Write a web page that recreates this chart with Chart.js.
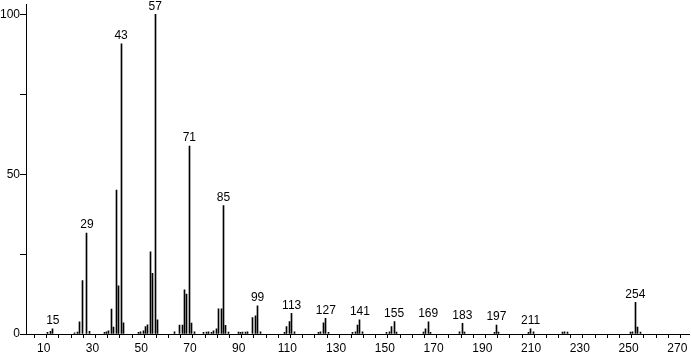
<!DOCTYPE html>
<html>
<head>
<meta charset="utf-8">
<script src="https://cdn.jsdelivr.net/npm/chart.js@4.4.0/dist/chart.umd.min.js"></script>
<style>
  html, body { margin: 0; padding: 0; background: #fff; }
  #wrap { width: 691px; height: 353px; }
</style>
</head>
<body>
<div id="wrap"><canvas id="spec" width="691" height="353"></canvas></div>
<script>
// m/z values and relative intensities
const mz = [13, 14, 15, 24, 25, 26, 27, 29, 30, 36, 37, 38, 39, 40, 41, 42, 43, 44,
  50, 51, 52, 53, 54, 55, 56, 57, 58, 65, 67, 68, 69, 70, 71, 72, 73,
  77, 78, 79, 80, 81, 82, 83, 84, 85, 86, 87, 91, 92, 93, 94, 95, 97, 98, 99, 100,
  110, 111, 112, 113, 114, 124, 125, 126, 127, 128, 138, 139, 140, 141, 142,
  152, 153, 154, 155, 156, 167, 168, 169, 170, 182, 183, 184, 196, 197, 198,
  210, 211, 212, 224, 225, 226, 252, 253, 254, 255, 256];
const intensity = [0.5, 0.8, 1.6, 0.4, 0.6, 3.8, 16.7, 31.6, 0.8, 0.5, 0.7, 1.0, 7.8, 2.2, 45.0, 15.1, 90.8, 3.5,
  0.5, 0.7, 1.0, 2.3, 2.9, 25.7, 19.0, 100, 4.4, 0.7, 2.8, 2.8, 13.8, 12.5, 58.8, 3.4, 0.7,
  0.5, 0.6, 0.7, 0.5, 1.0, 1.6, 7.9, 7.9, 40.2, 2.7, 0.6, 0.6, 0.5, 0.6, 0.6, 0.7, 5.1, 5.7, 8.8, 0.7,
  0.5, 2.3, 3.9, 6.5, 0.7, 0.5, 0.7, 3.5, 4.9, 0.5, 0.5, 0.7, 2.8, 4.4, 0.7,
  0.5, 0.7, 2.3, 3.9, 0.6, 0.6, 1.6, 3.8, 0.5, 0.7, 3.3, 0.6, 0.5, 2.8, 0.6,
  0.5, 1.6, 0.7, 0.6, 0.7, 0.6, 0.6, 0.7, 9.9, 2.2, 0.6];
// peaks that carry a label
const labeledMz = [15, 29, 43, 57, 71, 85, 99, 113, 127, 141, 155, 169, 183, 197, 211, 254];
const xLabelTicks = [10, 30, 50, 70, 90, 110, 130, 150, 170, 190, 210, 230, 250, 270];
const yLabelTicks = [0, 50, 100];

const FONT = { family: 'Liberation Sans, Arial, sans-serif', size: 12 };

// snap the 1px bars onto whole pixels so they stay crisp
const crispBars = {
  id: 'crispBars',
  beforeDatasetsDraw(chart) {
    chart.getDatasetMeta(0).data.forEach(el => { el.x = Math.floor(el.x) + 0.5; });
  }
};

const peakLabels = {
  id: 'peakLabels',
  afterDatasetsDraw(chart) {
    const ctx = chart.ctx;
    const xs = chart.scales.x, ys = chart.scales.y;
    ctx.save();
    ctx.font = FONT.size + 'px ' + FONT.family;
    ctx.fillStyle = '#000';
    ctx.textAlign = 'center';
    ctx.textBaseline = 'bottom';
    labeledMz.forEach(m => {
      const i = mz.indexOf(m);
      if (i < 0) return;
      const x = xs.getPixelForValue(m);
      const y = ys.getPixelForValue(intensity[i]) - 2;
      ctx.fillText(String(m), x, y);
    });
    ctx.restore();
  }
};

new Chart(document.getElementById('spec'), {
  type: 'bar',
  data: {
    datasets: [{
      data: mz.map((m, i) => ({ x: m, y: intensity[i] })),
      backgroundColor: '#000',
      borderWidth: 0,
      barThickness: 1
    }]
  },
  options: {
    responsive: false,
    devicePixelRatio: 1,
    animation: false,
    layout: { padding: { top: 0, right: 2, left: 0, bottom: 0 } },
    plugins: { legend: { display: false }, tooltip: { enabled: false } },
    scales: {
      x: {
        type: 'linear',
        min: 4,
        max: 276,
        offset: false,
        border: { display: true, color: '#000', width: 1 },
        grid: { drawOnChartArea: false, drawTicks: true, tickLength: 4, color: '#000' },
        ticks: {
          stepSize: 5,
          autoSkip: false,
          maxRotation: 0,
          includeBounds: false,
          padding: 3,
          labelOffset: 3,
          color: '#000',
          font: FONT,
          callback: v => xLabelTicks.includes(v) ? String(v) : ''
        },
        afterFit: s => { s.height = 19; }
      },
      y: {
        min: 0,
        max: 103,
        border: { display: true, color: '#000', width: 1 },
        grid: { drawOnChartArea: false, drawTicks: true, tickLength: 6, color: '#000' },
        ticks: {
          stepSize: 25,
          includeBounds: false,
          padding: 0,
          color: '#000',
          font: { family: FONT.family, size: 12, lineHeight: 0.8 },
          callback: v => yLabelTicks.includes(v) ? String(v) : ''
        },
        afterFit: s => { s.width = 26; }
      }
    }
  },
  plugins: [crispBars, peakLabels]
});
</script>
</body>
</html>
